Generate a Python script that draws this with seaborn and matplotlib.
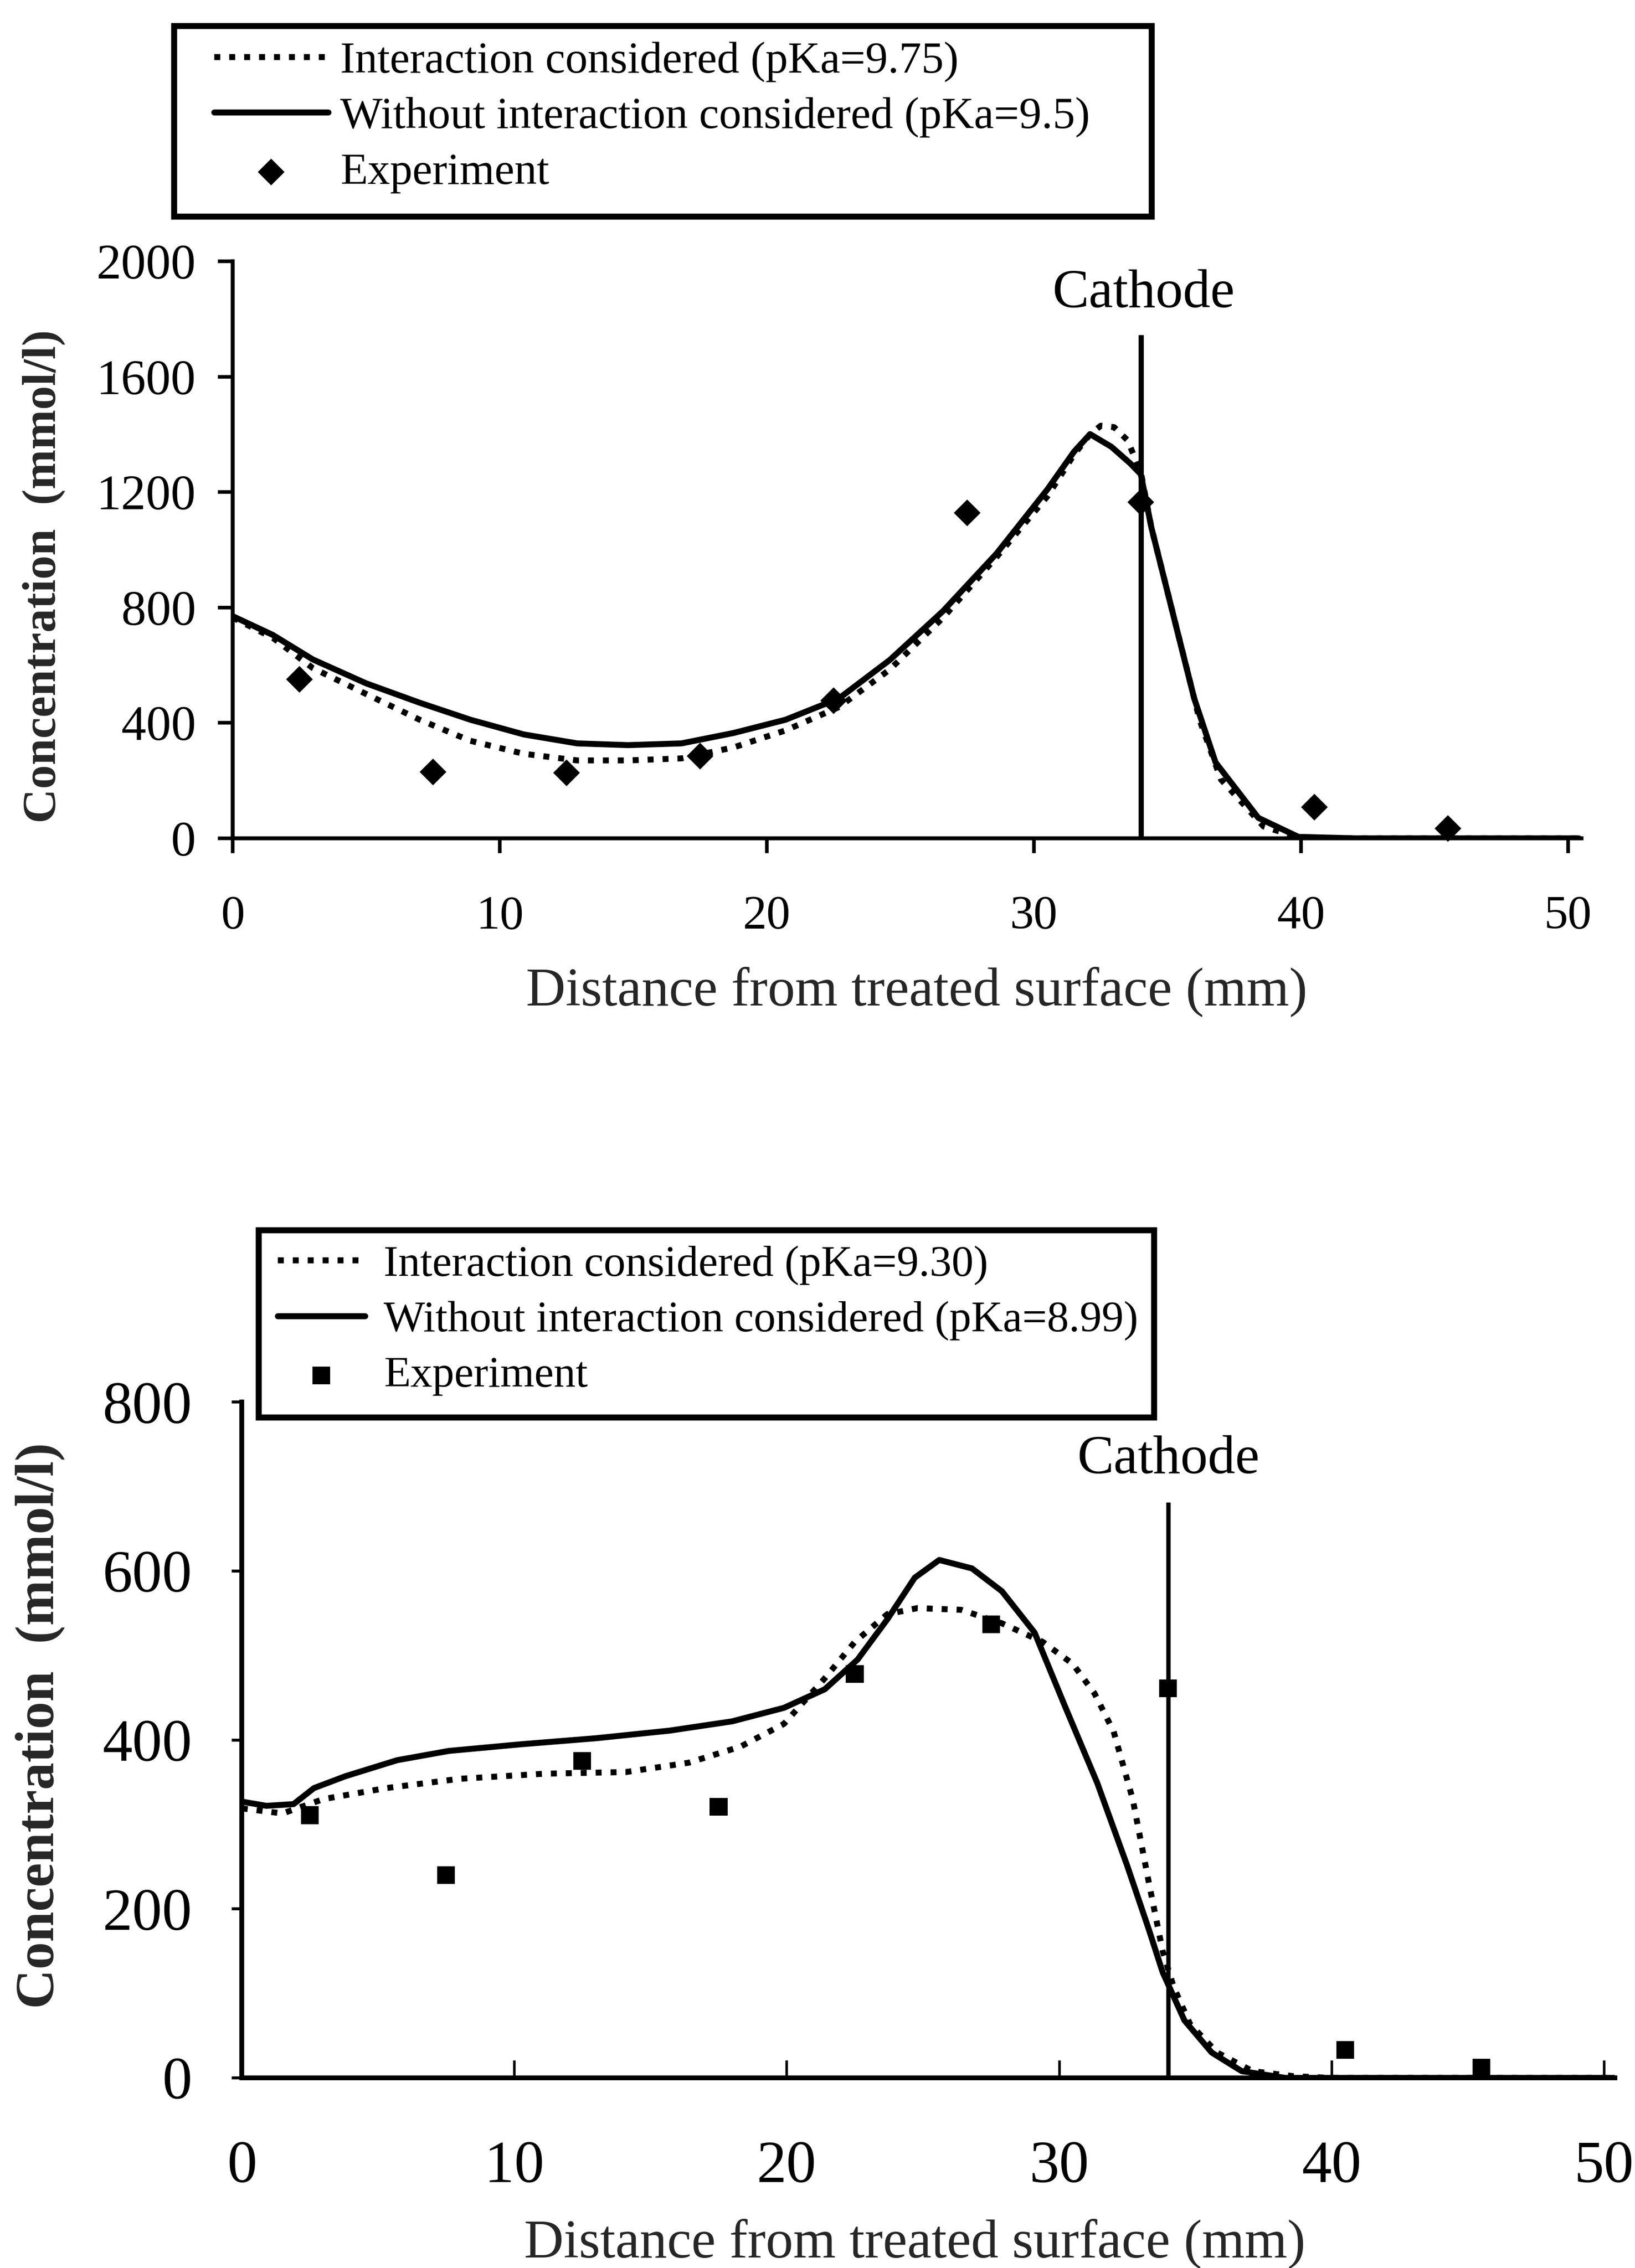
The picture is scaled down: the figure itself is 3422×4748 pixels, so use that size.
import matplotlib
matplotlib.use("Agg")
import matplotlib.pyplot as plt
from matplotlib.patches import Rectangle
import seaborn as sns

# ---------------- data: upper panel (pKa 9.75 / 9.5) ----------------
top_x_inter = [0, 1.5, 3.0, 5.0, 7.0, 8.9, 10.9, 12.9, 14.8, 16.8, 18.75, 20.7,
               22.7, 24.6, 26.6, 28.6, 30.5, 31.5, 32.1, 32.5, 33.0, 33.5, 34.0,
               34.4, 35.4, 36.2, 37.0, 38.6, 40.0, 42.0, 45.0, 50.4]
top_y_inter = [765, 695, 590, 500, 411, 338, 293, 270, 270, 277, 315, 374,
               455, 585, 765, 975, 1185, 1330, 1400, 1430, 1425, 1380, 1270,
               1076, 707, 411, 204, 41, 0, 0, 0, 0]

top_x_plain = [0, 1.5, 3.0, 5.0, 7.0, 8.9, 10.9, 12.9, 14.8, 16.8, 18.75, 20.7,
               22.7, 24.6, 26.6, 28.6, 30.5, 31.5, 32.1, 32.9, 33.6, 34.0, 34.4,
               35.2, 36.0, 36.8, 38.4, 39.9, 42.0, 45.0, 50.4]
top_y_plain = [770, 705, 620, 537, 470, 411, 360, 329, 323, 329, 365, 411,
               485, 618, 788, 987, 1209, 1340, 1401, 1357, 1300, 1262, 1076,
               780, 485, 263, 71, 5, 0, 0, 0]

top_x_exp = [2.5, 7.5, 12.5, 17.5, 22.5, 27.5, 34.0, 40.5, 45.5]
top_y_exp = [551, 230, 227, 285, 477, 1128, 1165, 108, 34]

top_labels = ["Interaction considered (pKa=9.75)",
              "Without interaction considered (pKa=9.5)",
              "Experiment"]

# ---------------- data: lower panel (pKa 9.30 / 8.99) ----------------
bot_x_inter = [0, 1.5, 3.0, 5.3, 8.0, 11.1, 14.1, 16.4, 18.3, 19.9, 21.4, 22.5,
               23.7, 24.8, 26.4, 27.9, 29.4, 30.5, 31.3, 32.0, 32.7, 33.3, 33.8,
               34.2, 34.8, 35.8, 37.1, 38.6, 40.0, 45.0, 50.4]
bot_y_inter = [319, 313, 330, 343, 354, 360, 362, 373, 392, 419, 473, 516,
               549, 556, 554, 538, 516, 490, 455, 410, 330, 230, 150,
               108, 64, 30, 8, 2, 0, 0, 0]

bot_x_plain = [0, 0.9, 1.9, 2.65, 3.8, 5.7, 7.6, 10.3, 13.0, 15.7, 18.0, 19.9,
               21.4, 22.6, 23.7, 24.7, 25.6, 26.8, 27.9, 29.1, 30.2, 31.4, 32.5,
               33.3, 33.8, 34.6, 35.6, 36.7, 38.3, 45.0, 50.4]
bot_y_plain = [327, 322, 324, 343, 357, 376, 387, 395, 402, 411, 422, 438,
               460, 495, 543, 592, 613, 603, 576, 527, 441, 349, 251,
               175, 125, 68, 30, 8, 0, 0, 0]

bot_x_exp = [2.5, 7.5, 12.5, 17.5, 22.5, 27.5, 34.0, 40.5, 45.5]
bot_y_exp = [311, 240, 375, 321, 478, 537, 461, 33, 12]

bot_labels = ["Interaction considered (pKa=9.30)",
              "Without interaction considered (pKa=8.99)",
              "Experiment"]

x_ticks = [0, 10, 20, 30, 40, 50]
top_y_ticks = [0, 400, 800, 1200, 1600, 2000]
bot_y_ticks = [0, 200, 400, 600, 800]

cathode_x = 34.0
top_cathode_top = 1745
bot_cathode_top = 681
top_cathode_label_y = 1841
bot_cathode_label_y = 716

x_label = "Distance from treated surface (mm)"
y_label = "Concentration  (mmol/l)"

# ---------------- style ----------------
sns.set_theme(style="ticks")
plt.rcParams["font.family"] = ["Liberation Serif", "DejaVu Serif"]
plt.rcParams["axes.linewidth"] = 2.0
plt.rcParams["axes.edgecolor"] = "black"
plt.rcParams["text.color"] = "black"
plt.rcParams["xtick.color"] = "black"
plt.rcParams["ytick.color"] = "black"

W, H = 3422, 4748
DPI = 300
fig = plt.figure(figsize=(W / DPI, H / DPI), dpi=DPI)
fig.patch.set_facecolor("white")

DOT = (0, (1.0, 1.5))
LW = 3.0


def px_box(x0, y0, x1, y1):
    """Convert a pixel box (top-left origin) into figure fractions."""
    return [x0 / W, 1 - y1 / H, (x1 - x0) / W, (y1 - y0) / H]


def draw_panel(ax, xi, yi, xp, yp, xe, ye, labels, marker, msize):
    sns.lineplot(x=xi, y=yi, ax=ax, color="black", linewidth=LW,
                 linestyle=DOT, label=labels[0], sort=False)
    sns.lineplot(x=xp, y=yp, ax=ax, color="black", linewidth=LW,
                 linestyle="-", label=labels[1], sort=False)
    sns.scatterplot(x=xe, y=ye, ax=ax, color="black", marker=marker,
                    s=msize, linewidth=0, edgecolor="none", label=labels[2],
                    zorder=5, clip_on=False)
    for sp in ("top", "right"):
        ax.spines[sp].set_visible(False)
    ax.set_facecolor("white")


# ---------------- upper panel ----------------
ax1 = fig.add_axes(px_box(487, 547, 3310, 1755))
draw_panel(ax1, top_x_inter, top_y_inter, top_x_plain, top_y_plain,
           top_x_exp, top_y_exp, top_labels, "D", 90)
ax1.vlines(cathode_x, 0, top_cathode_top, color="black", linewidth=2.6)
ax1.text(cathode_x + 0.1, top_cathode_label_y, "Cathode", ha="center",
         va="baseline", fontsize=27.5)
ax1.set_xlim(0, 50.5)
ax1.set_ylim(0, 2000)
ax1.set_xticks(x_ticks)
ax1.set_yticks(top_y_ticks)
ax1.tick_params(axis="x", direction="out", length=7.5, width=1.8, pad=21,
                labelsize=24)
ax1.tick_params(axis="y", direction="out", length=7.5, width=1.8, pad=11,
                labelsize=25)
ax1.set_xlabel(x_label, fontsize=27.5)
ax1.xaxis.set_label_coords(0.507, -0.222)
ax1.set_ylabel(y_label, fontsize=24, fontweight="bold")
ax1.yaxis.set_label_coords(-0.124, 0.454)
ax1.get_legend().remove()

h1, l1 = ax1.get_legend_handles_labels()
leg1 = fig.legend(h1, l1, loc="upper left",
                  bbox_to_anchor=(448 / W, 1 - 86 / H),
                  bbox_transform=fig.transFigure, frameon=False,
                  fontsize=22.5, handlelength=2.55, handletextpad=0.27,
                  labelspacing=0.33, borderpad=0, borderaxespad=0)
fig.patches.append(Rectangle((364 / W, 1 - 453 / H), (2410 - 364) / W,
                             (453 - 54) / H, transform=fig.transFigure,
                             fill=False, edgecolor="black", linewidth=3.0))

# ---------------- lower panel ----------------
ax2 = fig.add_axes(px_box(506, 2935, 3380, 4350))
draw_panel(ax2, bot_x_inter, bot_y_inter, bot_x_plain, bot_y_plain,
           bot_x_exp, bot_y_exp, bot_labels, "s", 80)
ax2.vlines(cathode_x, 0, bot_cathode_top, color="black", linewidth=2.2)
ax2.text(cathode_x, bot_cathode_label_y, "Cathode", ha="center",
         va="baseline", fontsize=27.5)
ax2.set_xlim(0, 50.4)
ax2.set_ylim(0, 800)
ax2.set_xticks(x_ticks)
ax2.set_yticks(bot_y_ticks)
for sp in ("left", "bottom"):
    ax2.spines[sp].set_linewidth(2.4)
ax2.tick_params(axis="x", direction="in", length=9, width=1.3, pad=31.5,
                labelsize=30)
ax2.tick_params(axis="y", direction="out", length=5, width=1.5, pad=20,
                labelsize=30)
ax2.set_xlabel(x_label, fontsize=27.5)
ax2.xaxis.set_label_coords(0.49, -0.2085)
ax2.set_ylabel(y_label, fontsize=27.5, fontweight="bold")
ax2.yaxis.set_label_coords(-0.1287, 0.521)
ax2.get_legend().remove()

h2, l2 = ax2.get_legend_handles_labels()
leg2 = fig.legend(h2, l2, loc="upper left",
                  bbox_to_anchor=(581 / W, 1 - 2606 / H),
                  bbox_transform=fig.transFigure, frameon=False,
                  fontsize=22, handlelength=2.0, handletextpad=0.42,
                  labelspacing=0.36, borderpad=0, borderaxespad=0)
fig.patches.append(Rectangle((541 / W, 1 - 2967 / H), (2415 - 541) / W,
                             (2967 - 2575) / H, transform=fig.transFigure,
                             fill=True, facecolor="white", edgecolor="black",
                             linewidth=3.0, zorder=1))

fig.savefig("out.png", dpi=DPI, facecolor="white")
